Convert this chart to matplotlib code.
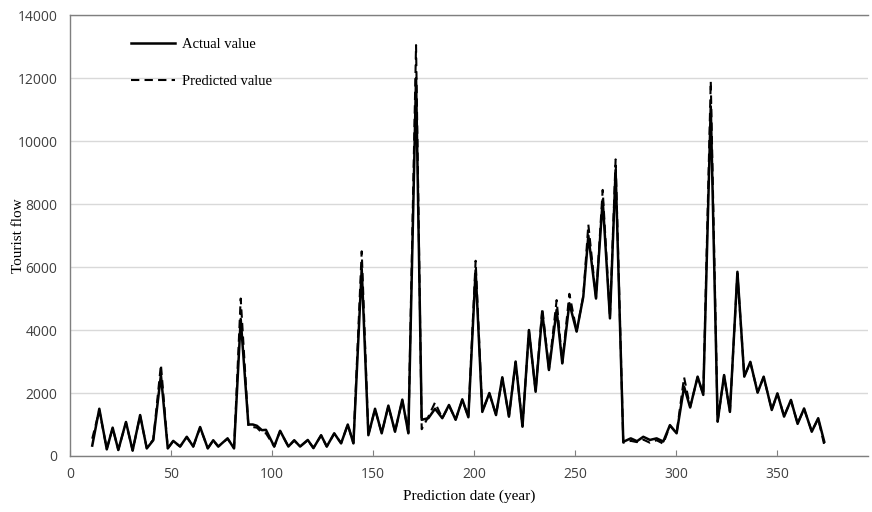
import matplotlib.pyplot as plt

# prediction date and the two series
days = [11, 14.5, 18.2, 21.1, 23.9, 27.7, 31.0, 34.7, 38.0, 41.2,
        45.0, 48.4, 51.1, 54.5, 57.8, 61.0, 64.4, 68.2, 70.9, 73.4,
        78.0, 81.2, 84.5, 88.3, 90.5, 92.5, 95.0, 97.0, 101.1, 104.0,
        108.1, 111.0, 113.9, 117.7, 120.5, 124.3, 127.1, 130.8, 134.2, 137.5,
        140.3, 144.4, 147.7, 151.0, 154.3, 157.6, 160.9, 164.5, 167.5, 171.3,
        174.1, 177.4, 180.7, 184.3, 187.6, 190.9, 194.2, 197.2, 200.8, 204.1,
        207.6, 210.9, 214.0, 217.3, 220.6, 224.0, 227.2, 230.5, 233.8, 237.1,
        240.9, 243.7, 247.2, 250.8, 254.1, 256.6, 260.4, 263.7, 267.3, 270.1,
        273.9, 277.6, 280.7, 283.8, 287.1, 290.4, 293.7, 297.0, 300.3, 304.0,
        307.0, 310.7, 313.5, 317.2, 320.6, 323.8, 326.7, 330.4, 333.8, 336.8,
        340.4, 343.4, 347.4, 350.2, 353.5, 356.9, 360.2, 363.4, 367.2, 370.4,
        373.4]

actual = [330, 1500, 210, 900, 190, 1080, 170, 1300, 240, 500,
          2570, 240, 480, 300, 610, 300, 920, 240, 500, 300,
          560, 240, 4350, 1000, 1000, 960, 820, 830, 300, 800,
          300, 500, 300, 510, 250, 660, 300, 720, 400, 1000,
          400, 5950, 660, 1500, 720, 1600, 770, 1790, 720, 12000,
          1150, 1200, 1500, 1200, 1620, 1150, 1800, 1230, 5900, 1400,
          2000, 1300, 2500, 1250, 3000, 930, 4000, 2040, 4550, 2730,
          4640, 2940, 4850, 3950, 5060, 7000, 5000, 8130, 4370, 9080,
          450, 560, 470, 610, 510, 560, 460, 980, 720, 2200,
          1540, 2520, 1940, 11100, 1090, 2570, 1400, 5850, 2520, 2990,
          2010, 2520, 1460, 1990, 1250, 1780, 1020, 1510, 770, 1200,
          450]

predicted = [550, 1450, 230, 880, 200, 1060, 180, 1280, 250, 520,
             2900, 250, 470, 300, 600, 300, 900, 250, 490, 300,
             550, 250, 5000, 950, 920, 900, 740, 720, 300, 790,
             300, 490, 300, 500, 260, 650, 300, 710, 410, 990,
             410, 6500, 680, 1480, 730, 1580, 780, 1770, 740, 13050,
             850, 1250, 1700, 1200, 1600, 1160, 1780, 1240, 6200, 1420,
             1980, 1310, 2480, 1260, 2980, 950, 3980, 2060, 4700, 2750,
             4950, 2960, 5150, 3970, 5080, 7350, 5020, 8450, 4390, 9420,
             420, 480, 440, 520, 420, 500, 390, 960, 730, 2500,
             1560, 2500, 1950, 11900, 1100, 2550, 1420, 5800, 2540, 2970,
             2030, 2500, 1480, 1970, 1270, 1760, 1040, 1490, 790, 1180,
             350]

xticks = [0, 50, 100, 150, 200, 250, 300, 350]
yticks = [0, 2000, 4000, 6000, 8000, 10000, 12000, 14000]

serif = ['Liberation Serif', 'DejaVu Serif']

fig = plt.figure(figsize=(8.72, 5.12), dpi=100)
ax = fig.add_axes([0.0803, 0.1094, 0.915, 0.861])

ax.plot(days, actual, color='black', linewidth=1.8, label='Actual value')
ax.plot(days, predicted, color='black', linewidth=1.5, linestyle=(0, (4, 2.5)),
        label='Predicted value')

ax.set_xlim(0, 395)
ax.set_ylim(0, 14000)
ax.set_xticks(xticks)
ax.set_yticks(yticks)
ax.yaxis.grid(True, color='#d9d9d9', linewidth=1)
ax.set_axisbelow(True)

for side in ['left', 'bottom', 'top']:
    ax.spines[side].set_color('#7f7f7f')
    ax.spines[side].set_linewidth(1)
ax.spines['right'].set_visible(False)

ax.tick_params(axis='x', direction='in', length=4, color='#7f7f7f',
               labelsize=10, labelcolor='#404040', pad=8)
ax.tick_params(axis='y', length=0, labelsize=10, labelcolor='#404040', pad=9)
for lab in ax.get_xticklabels() + ax.get_yticklabels():
    lab.set_family(['Open Sans', 'DejaVu Sans'])

ax.set_xlabel('Prediction date (year)', family=serif, fontsize=11, labelpad=5)
ax.set_ylabel('Tourist flow', family=serif, fontsize=11)
ax.yaxis.set_label_coords(-0.056, 0.5)

leg = ax.legend(loc='upper left', bbox_to_anchor=(0.06, 0.978), frameon=False,
                handlelength=3, labelspacing=1.62, handletextpad=0.5,
                prop={'family': serif, 'size': 10.5})

fig.savefig('out.png', dpi=100)
